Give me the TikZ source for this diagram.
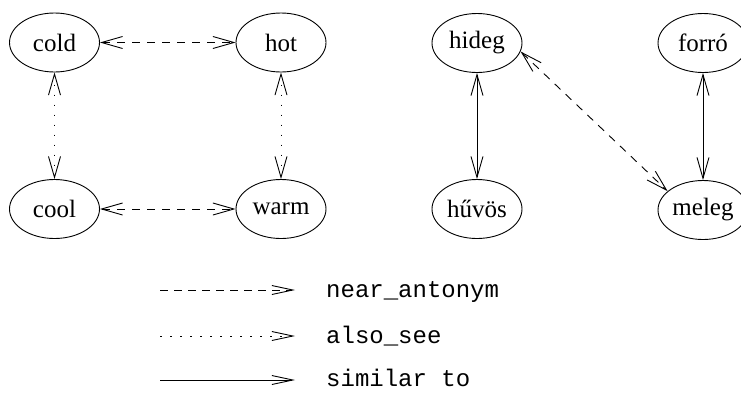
\documentclass[tikz,border=0pt]{standalone}
\usepackage{fontspec}
\setmainfont{Liberation Serif}
\setmonofont{Liberation Mono}
\usetikzlibrary{arrows.meta,shapes.geometric}
\begin{document}
\begin{tikzpicture}[x=1pt,y=-1pt,
  word/.style={ellipse,draw,line width=0.9pt,minimum width=90pt,minimum height=59pt,inner sep=0pt,font=\fontsize{25}{29}\selectfont},
  link/.style={line width=0.9pt,{Straight Barb[length=21pt,width=12pt]}-{Straight Barb[length=21pt,width=12pt]}},
  nearant/.style={link,dash pattern=on 8pt off 7pt},
  alsosee/.style={link,dash pattern=on 1.6pt off 8.4pt},
  similar/.style={link},
  keyline/.style={line width=0.9pt,-{Straight Barb[length=21pt,width=9pt]}},
  keytext/.style={font=\ttfamily\fontsize{24}{28}\selectfont,anchor=base west,inner sep=0pt}
]
\useasboundingbox (0,0) rectangle (741,392);
\clip (0,0) rectangle (741,392);
% English
\node[word] (cold) at (54.5,42.5) {cold};
\node[word] (hot)  at (281,42.5) {hot};
\node[word] (cool) at (54.5,209) {cool};
\node[word] (warm) at (281,209) {warm};
% Hungarian
\node[word] (hideg) at (477,43) {hideg};
\node[word] (forro) at (703,43) {forró};
\node[word] (huvos) at (477,209) {hűvös};
\node[word] (meleg) at (703,210) {meleg};
% connectors
\draw[nearant] (cold) -- (hot);
\draw[nearant] (cool) -- (warm);
\draw[alsosee] (cold) -- (cool);
\draw[alsosee] (hot) -- (warm);
\draw[similar] (hideg) -- (huvos);
\draw[similar] (forro) -- (meleg);
\draw[nearant] (hideg.-11) -- (meleg.152);
% legend
\coordinate (k1a) at (160,290); \coordinate (k1b) at (295,290);
\coordinate (k2a) at (160,336); \coordinate (k2b) at (295,336);
\coordinate (k3a) at (160,380); \coordinate (k3b) at (295,380);
\draw[keyline,dash pattern=on 8pt off 6pt] (k1a) -- (k1b);
\draw[keyline,dash pattern=on 1.6pt off 8.4pt] (k2a) -- (k2b);
\draw[keyline] (k3a) -- (k3b);
\node[keytext] (t1) at (326,297) {near\_antonym};
\node[keytext] (t2) at (326,343) {also\_see};
\node[keytext] (t3) at (326,386) {similar to};
\end{tikzpicture}
\end{document}
